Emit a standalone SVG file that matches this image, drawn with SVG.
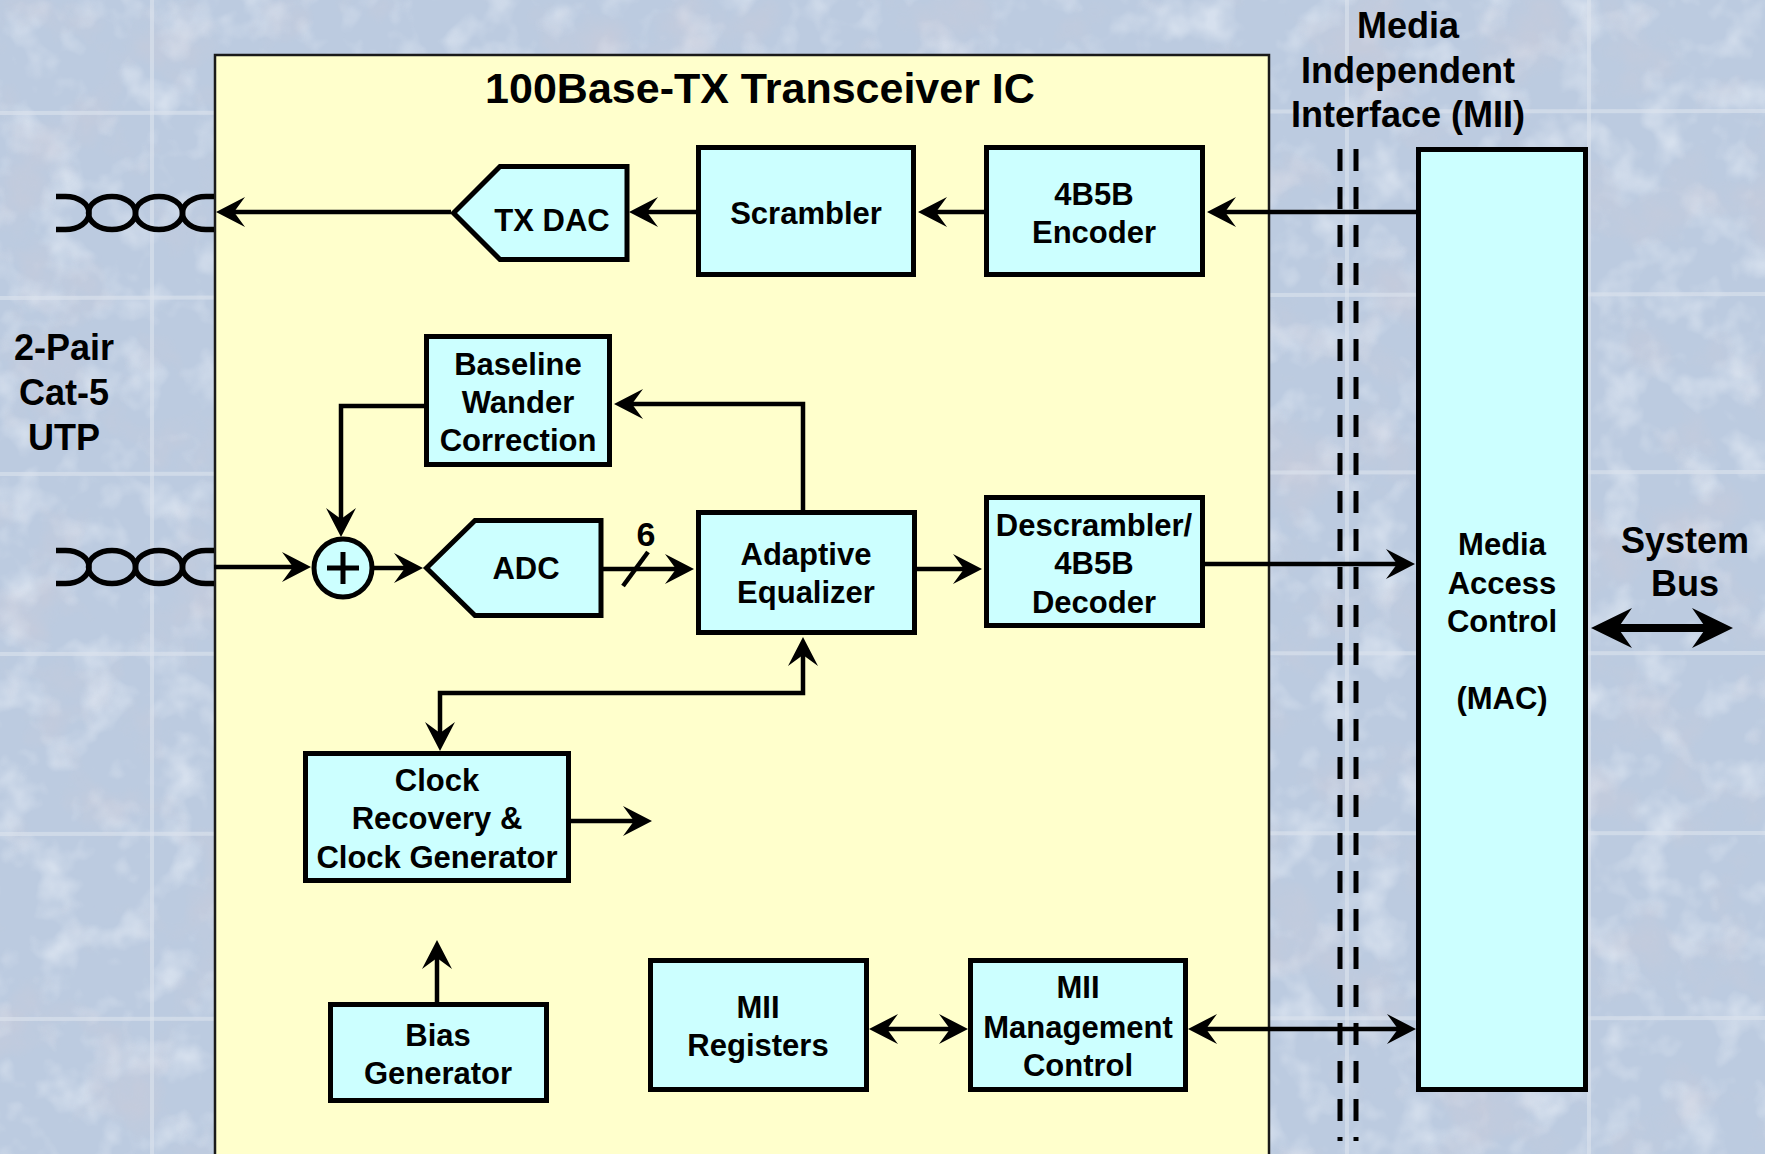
<svg xmlns="http://www.w3.org/2000/svg" width="1765" height="1154" viewBox="0 0 1765 1154">
  <defs>
    <style>
      .node { fill: #ccffff; stroke: #000; stroke-width: 5; }
      .lbl { font-family: "Liberation Sans", Arial, sans-serif; font-weight: bold; font-size: 31px; text-anchor: middle; fill: #000; }
      .big { font-size: 36px; }
      .wire { fill: none; stroke: #000; stroke-width: 4.5; }
      .grout { stroke: #dde4ee; stroke-width: 4; opacity: 0.6; }
      .mii { fill: none; stroke: #000; stroke-width: 5; stroke-dasharray: 22 16; }
      .pair { fill: none; stroke: #000; stroke-width: 5.5; }
    </style>
    <!-- barbed arrowhead; line ends 6px short of the tip -->
    <marker id="ah" viewBox="-26 -16 34 32" markerWidth="34" markerHeight="32" refX="0" refY="0" orient="auto-start-reverse" markerUnits="userSpaceOnUse">
      <path d="M6,0 L-23,-15 L-12,0 L-23,15 Z" fill="#000"/>
    </marker>
    <marker id="ahBig" viewBox="-36 -22 48 44" markerWidth="48" markerHeight="44" refX="0" refY="0" orient="auto-start-reverse" markerUnits="userSpaceOnUse">
      <path d="M9,0 L-32,-20 L-18,0 L-32,20 Z" fill="#000"/>
    </marker>
    <!-- stone tile mottling -->
    <filter id="mottle" x="0" y="0" width="100%" height="100%">
      <feTurbulence type="fractalNoise" baseFrequency="0.012" numOctaves="4" seed="7"/>
      <feColorMatrix type="matrix" values="0 0 0 0 0.62  0 0 0 0 0.6  0 0 0 0 0.68  3 0 0 0 -1.55"/>
    </filter>
    <filter id="light" x="0" y="0" width="100%" height="100%">
      <feTurbulence type="fractalNoise" baseFrequency="0.025" numOctaves="3" seed="11"/>
      <feColorMatrix type="matrix" values="0 0 0 0 0.88  0 0 0 0 0.92  0 0 0 0 0.97  0 2.5 0 0 -1.2"/>
    </filter>
    <!-- twisted pair cable end -->
    <g id="pair">
      <path class="pair" d="M56,-16.5 H65.5 A23.5,16.5 0 0 1 65.5,16.5 H56"/>
      <ellipse class="pair" cx="112" cy="0" rx="23.5" ry="16.5"/>
      <ellipse class="pair" cx="159" cy="0" rx="23.5" ry="16.5"/>
      <path class="pair" d="M214,-16.5 H206 A23.5,16.5 0 0 0 206,16.5 H214"/>
    </g>
  </defs>

  <!-- background -->
  <g id="background">
    <rect x="0" y="0" width="1765" height="1154" fill="#bccbe0"/>
    <rect x="0" y="0" width="1765" height="1154" filter="url(#light)" opacity="0.5"/>
    <rect x="0" y="0" width="1765" height="1154" filter="url(#mottle)" opacity="0.45"/>
    <line class="grout" x1="0" y1="113" x2="1765" y2="111"/>
    <line class="grout" x1="0" y1="298" x2="1765" y2="294"/>
    <line class="grout" x1="0" y1="474" x2="1765" y2="472"/>
    <line class="grout" x1="0" y1="654" x2="1765" y2="653"/>
    <line class="grout" x1="0" y1="834" x2="1765" y2="833"/>
    <line class="grout" x1="0" y1="1019" x2="1765" y2="1018"/>
    <line class="grout" x1="152" y1="0" x2="152" y2="1154"/>
    <line class="grout" x1="1347" y1="0" x2="1347" y2="1154"/>
    <line class="grout" x1="1589" y1="0" x2="1589" y2="1154"/>
  </g>

  <!-- transceiver chip outline -->
  <g id="chip">
    <rect x="215" y="55" width="1054" height="1110" fill="#ffffcc" stroke="#1a1a1a" stroke-width="2.5"/>
    <text class="lbl" x="760" y="103" style="font-size:43px">100Base-TX Transceiver IC</text>
  </g>

  <!-- outside labels -->
  <g id="cable-label">
    <text class="lbl big" x="64" y="360">2-Pair</text>
    <text class="lbl big" x="64" y="405">Cat-5</text>
    <text class="lbl big" x="64" y="450">UTP</text>
  </g>
  <g id="mii-label">
    <text class="lbl big" x="1408" y="38">Media</text>
    <text class="lbl big" x="1408" y="83">Independent</text>
    <text class="lbl big" x="1408" y="127">Interface (MII)</text>
  </g>
  <g id="mii-boundary">
    <line class="mii" x1="1340" y1="149" x2="1340" y2="1141"/>
    <line class="mii" x1="1356" y1="149" x2="1356" y2="1141"/>
  </g>
  <g id="cable-tx"><use href="#pair" transform="translate(0,213)"/></g>
  <g id="cable-rx"><use href="#pair" transform="translate(0,567)"/></g>

  <!-- nodes -->
  <g id="tx-dac">
    <polygon class="node" points="453.5,213 500,166.5 627,166.5 627,259.5 500,259.5"/>
    <text class="lbl" x="552" y="231">TX DAC</text>
  </g>
  <g id="scrambler">
    <rect class="node" x="698.5" y="147.5" width="215" height="127"/>
    <text class="lbl" x="806" y="224">Scrambler</text>
  </g>
  <g id="encoder">
    <rect class="node" x="986.5" y="147.5" width="216" height="127"/>
    <text class="lbl" x="1094" y="205">4B5B</text>
    <text class="lbl" x="1094" y="243">Encoder</text>
  </g>
  <g id="baseline-wander">
    <rect class="node" x="426.5" y="336.5" width="183" height="128"/>
    <text class="lbl" x="518" y="375">Baseline</text>
    <text class="lbl" x="518" y="413">Wander</text>
    <text class="lbl" x="518" y="451">Correction</text>
  </g>
  <g id="summer">
    <circle class="node" cx="343" cy="568" r="29"/>
    <path d="M327,568 H359 M343,552 V584" stroke="#000" stroke-width="5"/>
  </g>
  <g id="adc">
    <polygon class="node" points="426.5,568 475,520.5 601,520.5 601,615.5 475,615.5"/>
    <text class="lbl" x="526" y="579">ADC</text>
  </g>
  <g id="equalizer">
    <rect class="node" x="698.5" y="512.5" width="216" height="120"/>
    <text class="lbl" x="806" y="565">Adaptive</text>
    <text class="lbl" x="806" y="603">Equalizer</text>
  </g>
  <g id="decoder">
    <rect class="node" x="986.5" y="497.5" width="216" height="128"/>
    <text class="lbl" x="1094" y="536">Descrambler/</text>
    <text class="lbl" x="1094" y="574">4B5B</text>
    <text class="lbl" x="1094" y="613">Decoder</text>
  </g>
  <g id="clock">
    <rect class="node" x="305.5" y="753.5" width="263" height="127"/>
    <text class="lbl" x="437" y="791">Clock</text>
    <text class="lbl" x="437" y="829">Recovery &amp;</text>
    <text class="lbl" x="437" y="868">Clock Generator</text>
  </g>
  <g id="bias">
    <rect class="node" x="330.5" y="1004.5" width="216" height="96"/>
    <text class="lbl" x="438" y="1046">Bias</text>
    <text class="lbl" x="438" y="1084">Generator</text>
  </g>
  <g id="mii-registers">
    <rect class="node" x="650.5" y="960.5" width="216" height="129"/>
    <text class="lbl" x="758" y="1018">MII</text>
    <text class="lbl" x="758" y="1056">Registers</text>
  </g>
  <g id="mii-management">
    <rect class="node" x="970.5" y="960.5" width="215" height="129"/>
    <text class="lbl" x="1078" y="998">MII</text>
    <text class="lbl" x="1078" y="1038">Management</text>
    <text class="lbl" x="1078" y="1076">Control</text>
  </g>
  <g id="mac">
    <rect class="node" x="1418.5" y="149.5" width="167" height="940"/>
    <text class="lbl" x="1502" y="555">Media</text>
    <text class="lbl" x="1502" y="594">Access</text>
    <text class="lbl" x="1502" y="632">Control</text>
    <text class="lbl" x="1502" y="709">(MAC)</text>
  </g>
  <g id="system-bus-label">
    <text class="lbl big" x="1685" y="553">System</text>
    <text class="lbl big" x="1685" y="596">Bus</text>
  </g>

  <!-- connectors -->
  <g id="connectors">
    <path class="wire" d="M1416,212 H1213" marker-end="url(#ah)"/>
    <path class="wire" d="M984,212 H924" marker-end="url(#ah)"/>
    <path class="wire" d="M696,212 H635" marker-end="url(#ah)"/>
    <path class="wire" d="M451,212 H222" marker-end="url(#ah)"/>
    <path class="wire" d="M214,567 H305" marker-end="url(#ah)"/>
    <path class="wire" d="M374,568 H417" marker-end="url(#ah)"/>
    <path class="wire" d="M603,569 H688" marker-end="url(#ah)"/>
    <line x1="623" y1="586" x2="648" y2="552" stroke="#000" stroke-width="4.5"/>
    <text class="lbl" x="646" y="546" style="font-size:34px">6</text>
    <path class="wire" d="M917,569 H976" marker-end="url(#ah)"/>
    <path class="wire" d="M1205,564 H1409" marker-end="url(#ah)"/>
    <path class="wire" d="M803,510 V404 H620" marker-end="url(#ah)"/>
    <path class="wire" d="M424,406 H341 V531" marker-end="url(#ah)"/>
    <path class="wire" d="M803,643 V693 H440 V745" marker-start="url(#ah)" marker-end="url(#ah)"/>
    <path class="wire" d="M571,821 H646" marker-end="url(#ah)"/>
    <path class="wire" d="M437,1002 V946" marker-end="url(#ah)"/>
    <path class="wire" d="M875,1029 H962" marker-start="url(#ah)" marker-end="url(#ah)"/>
    <path class="wire" d="M1194,1029 H1410" marker-start="url(#ah)" marker-end="url(#ah)"/>
    <path d="M1600,628 H1724" stroke="#000" stroke-width="8" fill="none" marker-start="url(#ahBig)" marker-end="url(#ahBig)"/>
  </g>
</svg>
